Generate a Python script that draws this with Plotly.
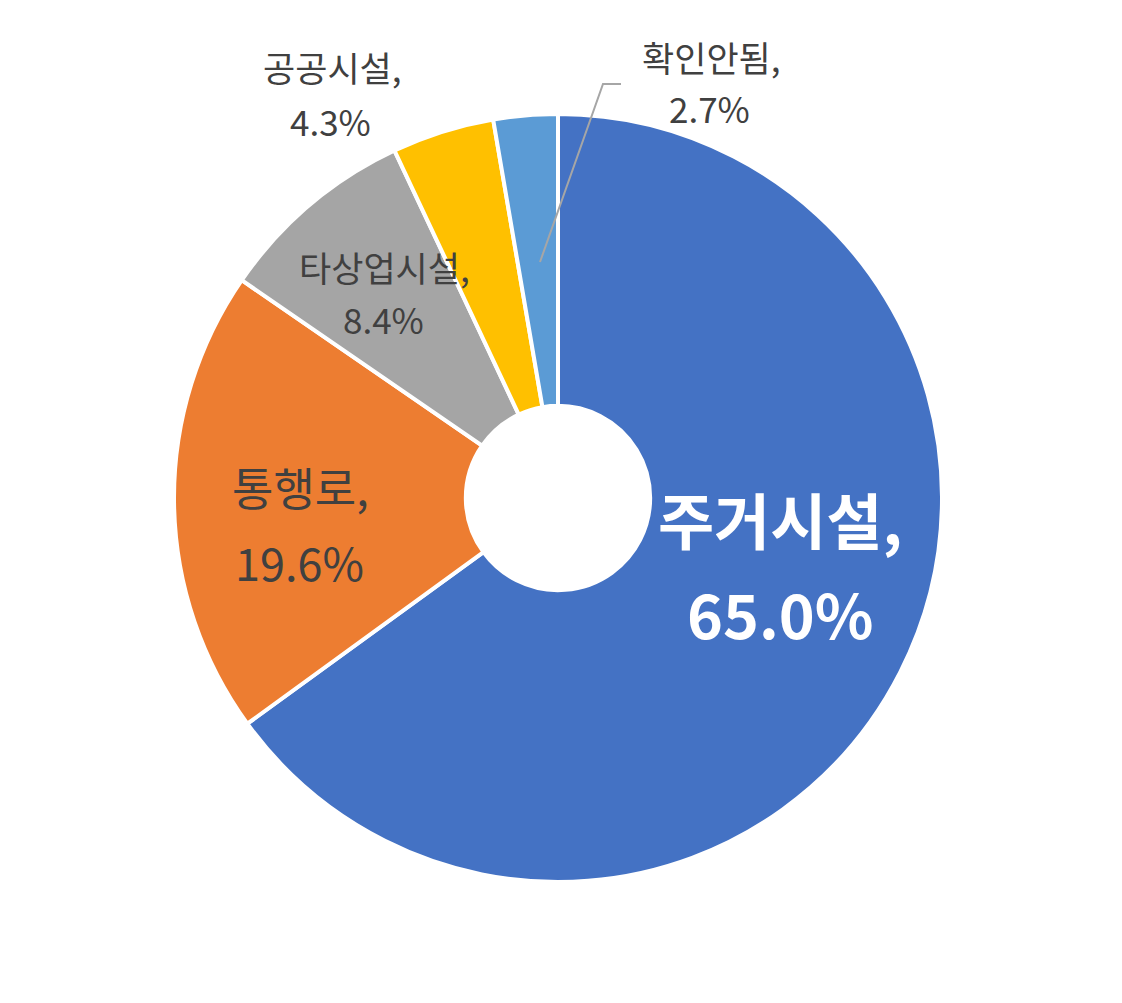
import plotly.graph_objects as go

labels = ["주거시설", "통행로", "타상업시설", "공공시설", "확인안됨"]
values = [65.0, 19.6, 8.4, 4.3, 2.7]
colors = ["#4472C4", "#ED7D31", "#A5A5A5", "#FFC000", "#5B9BD5"]

W, H = 1122, 1003
OFF = 8  # page body margin in the browser
# label layout (pixel centres: name line, value line), font size, colour, bold
label_pos = [
    ((780, 519), (780, 612), 61, "white", True),
    ((300, 487), (299, 561), 45, "#404040", False),
    ((384, 266), (383, 318), 35, "#404040", False),
    ((332, 66), (330, 121), 35, "#404040", False),
    ((711, 56), (710, 108), 35, "#404040", False),
]

def px(x, y):
    return (x - OFF) / W, 1 - (y - OFF) / H

cx, cy, r = 558, 498, 384
x0, y0 = px(cx - r, cy - r)
x1, y1 = px(cx + r, cy + r)

fig = go.Figure(go.Pie(
    labels=labels, values=values, sort=False, direction="clockwise",
    hole=0.24, textinfo="none", showlegend=False,
    marker=dict(colors=colors, line=dict(color="white", width=4)),
    domain=dict(x=[x0, x1], y=[y1, y0]),
))

font_family = "Noto Sans CJK KR"
for lab, val, (p1, p2, fs, col, bold) in zip(labels, values, label_pos):
    t1 = f"{lab},"
    t2 = f"{val:.1f}%"
    if bold:
        t1 = f"<b>{t1}</b>"
        t2 = f"<b>{t2}</b>"
    for (x, y), t in ((p1, t1), (p2, t2)):
        ax, ay = px(x, y)
        fig.add_annotation(x=ax, y=ay, xref="paper", yref="paper", text=t,
                           showarrow=False, xanchor="center", yanchor="middle",
                           font=dict(family=font_family, size=fs, color=col))

# leader line for 확인안됨
pts = [px(540, 262), px(603, 84), px(621, 84)]
path = "M {} {} L {} {} L {} {}".format(*pts[0], *pts[1], *pts[2])
fig.add_shape(type="path", path=path, xref="paper", yref="paper",
              line=dict(color="#A6A6A6", width=2))

fig.update_layout(width=W, height=H, margin=dict(l=0, r=0, t=0, b=0),
                  paper_bgcolor="white", plot_bgcolor="white")
fig.write_html("out.html")
